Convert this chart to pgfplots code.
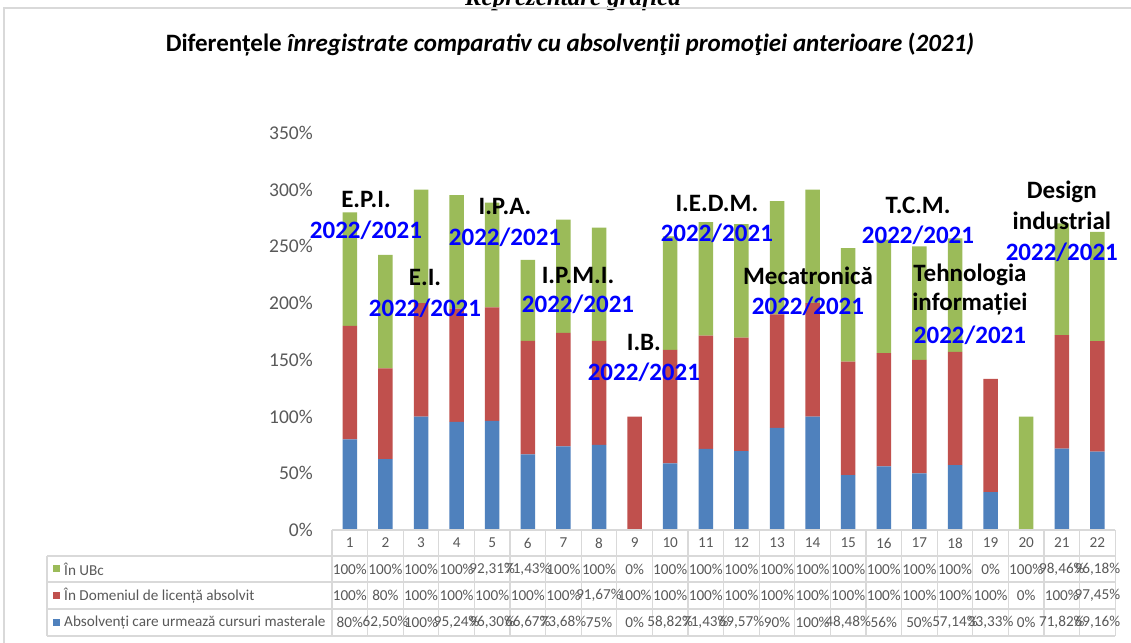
\documentclass[border=0pt]{standalone}
\usepackage{fontspec}
\setmainfont{Carlito}
\newfontfamily\timesf{Liberation Serif}
\usepackage{pgfplots}
\usepackage{pgfplotstable}
\pgfplotsset{compat=1.18}
\definecolor{cblue}{HTML}{4F81BD}
\definecolor{cred}{HTML}{C0504D}
\definecolor{cgreen}{HTML}{9BBB59}
\definecolor{tgrey}{HTML}{595959}
\definecolor{lgrey}{HTML}{D9D9D9}
\definecolor{ablue}{HTML}{0000FF}

% x = program, a = absolventi masterat, d = in domeniul de licenta, u = in UBc
\pgfplotstableread{
x a d u
1 80 100 100
2 62.50 80 100
3 100 100 100
4 95.24 100 100
5 96.30 100 92.31
6 66.67 100 71.43
7 73.68 100 100
8 75 91.67 100
9 0 100 0
10 58.82 100 100
11 71.43 100 100
12 69.57 100 100
13 90 100 100
14 100 100 100
15 48.48 100 100
16 56 100 100
17 50 100 100
18 57.14 100 100
19 33.33 100 0
20 0 0 100
21 71.82 100 98.46
22 69.16 97.45 96.18
}\datatable

\begin{document}
\begin{tikzpicture}[
  lab/.style={font=\bfseries\fontsize{25}{30}\selectfont, text=black, inner sep=0pt},
  yr/.style={font=\bfseries\fontsize{25}{30}\selectfont, text=ablue, inner sep=0pt},
  tab/.style={font=\fontsize{15.2}{18}\selectfont, text=tgrey, inner sep=0pt}]
\begin{scope}[x=1pt,y=1pt]
\useasboundingbox (0,0) rectangle (1131,642);
\fill[white] (0,0) rectangle (1131,642);
\node[font=\timesf\bfseries\itshape\fontsize{25}{30}\selectfont, anchor=base] at (573,636) {Reprezentare grafică};
\draw[lgrey, line width=1.2pt] (4,-10) -- (4,634) -- (1200,634);
\node[font=\bfseries\fontsize{25}{30}\selectfont, anchor=base] at (570,590) {Diferențele \textit{înregistrate comparativ cu absolvenţii promoţiei anterioare} (\textit{2021)}};
\end{scope}

\begin{axis}[at={(332pt,112pt)}, anchor=south west, scale only axis,
  width=783.2pt, height=397pt,
  xmin=0.5, xmax=22.5, ymin=0, ymax=350,
  ybar stacked, bar width=14.5pt,
  axis line style={draw=none}, major tick length=0pt,
  clip=false,
  ytick={0,50,...,350},
  yticklabels={0\%,50\%,100\%,150\%,200\%,250\%,300\%,350\%},
  yticklabel style={font=\fontsize{19.5}{22}\selectfont, text=tgrey, inner sep=0pt, anchor=east, xshift=-19pt},
  xtick={1,...,22},
  xticklabels={1,2,3,4,5,6,7,8,9,10,11,12,13,14,15,16,17,18,19,20,21,22},
  xticklabel style={font=\fontsize{15.2}{18}\selectfont, text=tgrey, inner sep=0pt, anchor=center, yshift=-13pt},
]
\addplot[fill=cblue, draw=none] table[x=x, y=a] {\datatable};
\addplot[fill=cred, draw=none] table[x=x, y=d] {\datatable};
\addplot[fill=cgreen, draw=none] table[x=x, y=u] {\datatable};

\coordinate (a1) at (axis cs:1.455,291.8);
\coordinate (b1) at (axis cs:1.455,264.5);
\coordinate (a2) at (axis cs:3.112,222.2);
\coordinate (b2) at (axis cs:3.112,195.7);
\coordinate (a3) at (axis cs:5.36,285.6);
\coordinate (b3) at (axis cs:5.36,258.3);
\coordinate (a4) at (axis cs:7.41,224.8);
\coordinate (b4) at (axis cs:7.41,199.2);
\coordinate (a5) at (axis cs:9.26,164.9);
\coordinate (b5) at (axis cs:9.26,139.3);
\coordinate (a6) at (axis cs:11.31,288.3);
\coordinate (b6) at (axis cs:11.31,261.8);
\coordinate (a7) at (axis cs:13.87,223.9);
\coordinate (b7) at (axis cs:13.87,197.5);
\coordinate (a8) at (axis cs:16.96,286.5);
\coordinate (b8) at (axis cs:16.96,260.1);
\coordinate (a9) at (axis cs:18.42,224.8);
\coordinate (c9) at (axis cs:18.42,199.2);
\coordinate (b9) at (axis cs:18.42,171.9);
\coordinate (a10) at (axis cs:21.0,298.0);
\coordinate (c10) at (axis cs:21.0,272.4);
\coordinate (b10) at (axis cs:21.0,245.1);
\end{axis}

\node[lab] at (a1) {E.P.I.};
\node[yr]  at (b1) {2022/2021};
\node[lab] at (a2) {E.I.};
\node[yr]  at (b2) {2022/2021};
\node[lab] at (a3) {I.P.A.};
\node[yr]  at (b3) {2022/2021};
\node[lab] at (a4) {I.P.M.I.};
\node[yr]  at (b4) {2022/2021};
\node[lab] at (a5) {I.B.};
\node[yr]  at (b5) {2022/2021};
\node[lab] at (a6) {I.E.D.M.};
\node[yr]  at (b6) {2022/2021};
\node[lab] at (a7) {Mecatronică};
\node[yr]  at (b7) {2022/2021};
\node[lab] at (a8) {T.C.M.};
\node[yr]  at (b8) {2022/2021};
\node[lab] at (a9) {Tehnologia};
\node[lab] at (c9) {informației};
\node[yr]  at (b9) {2022/2021};
\node[lab] at (a10) {Design};
\node[lab] at (c10) {industrial};
\node[yr]  at (b10) {2022/2021};

\begin{scope}[x=1pt,y=1pt]
% data table grid
\foreach \k in {0,...,22} \draw[lgrey, line width=1.2pt] ({332+35.6*\k},112) -- ({332+35.6*\k},6);
\draw[lgrey, line width=1.2pt] (332,112) -- (1115.2,112);
\foreach \yy in {86,60,33,6} \draw[lgrey, line width=1.2pt] (47,\yy) -- (1115.2,\yy);
\draw[lgrey, line width=1.2pt] (47,86) -- (47,6);

% legend cells
\fill[cgreen] (53,69.5) rectangle (60,76.5);
\node[tab, anchor=west] at (64,73) {În UBc};
\fill[cred] (53,43) rectangle (60,50);
\node[tab, anchor=west] at (64,46.5) {În Domeniul de licență absolvit};
\fill[cblue] (53,16) rectangle (60,23);
\node[tab, anchor=west] at (64,19.5) {Absolvenți care urmează cursuri masterale};

% table values
\foreach \v [count=\i] in {100\%,100\%,100\%,100\%,{92,31\%},{71,43\%},100\%,100\%,0\%,100\%,100\%,100\%,100\%,100\%,100\%,100\%,100\%,100\%,0\%,100\%,{98,46\%},{96,18\%}}
  \node[tab] at ({332+35.6*(\i-0.5)},73) {\v};
\foreach \v [count=\i] in {100\%,80\%,100\%,100\%,100\%,100\%,100\%,{91,67\%},100\%,100\%,100\%,100\%,100\%,100\%,100\%,100\%,100\%,100\%,100\%,0\%,100\%,{97,45\%}}
  \node[tab] at ({332+35.6*(\i-0.5)},46.5) {\v};
\foreach \v [count=\i] in {80\%,{62,50\%},100\%,{95,24\%},{96,30\%},{66,67\%},{73,68\%},75\%,0\%,{58,82\%},{71,43\%},{69,57\%},90\%,100\%,{48,48\%},56\%,50\%,{57,14\%},{33,33\%},0\%,{71,82\%},{69,16\%}}
  \node[tab] at ({332+35.6*(\i-0.5)},19.5) {\v};
\end{scope}
\end{tikzpicture}
\end{document}
